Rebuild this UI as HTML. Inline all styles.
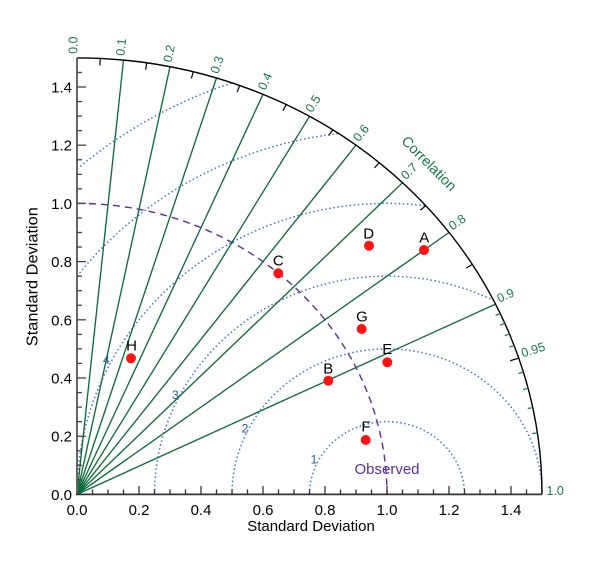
<!DOCTYPE html>
<html><head><meta charset="utf-8"><style>
html,body{margin:0;padding:0;background:#fff;}
svg{display:block;}
text{font-family:"Liberation Sans",Arial,sans-serif;}
</style></head><body>
<svg width="600" height="564" viewBox="0 0 600 564" xmlns="http://www.w3.org/2000/svg">
<rect width="600" height="564" fill="#fff"/>

<!-- RMS dotted circles -->
<g fill="none" stroke="#3f73c8" stroke-width="1.5" stroke-dasharray="1.5 2.6">
<path d="M309.5,494.4 A77.5,72.75 0 0 1 464.5,494.4"/>
<path d="M232,494.4 A155,145.5 0 0 1 542,494.4"/>
<path d="M154.5,494.4 A232.5,218.25 0 0 1 493.56,300.42"/>
<path d="M77,494.4 A310,291 0 0 1 425.75,205.68"/>
<path d="M77,276.15 A387.5,363.75 0 0 1 338.56,133.5"/>
<path d="M77,169.1 A465,436.5 0 0 1 232,82.9"/>
</g>
<g fill="#2a55a0" font-size="12" text-anchor="middle">
<text x="314" y="463.5">1</text>
<text x="245" y="432.7">2</text>
<text x="175.3" y="399">3</text>
<text x="106.3" y="364">4</text>
</g>

<!-- Observed dashed arc -->
<path d="M77,203.4 A310,291 0 0 1 387,494.4" fill="none" stroke="#5c2e9e" stroke-width="1.4" stroke-dasharray="7 5"/>
<text x="387" y="474" font-size="15" fill="#5c2e9e" text-anchor="middle">Observed</text>

<!-- correlation lines -->
<g stroke="#0f6b3a" stroke-width="1.35">
<line x1="77" y1="494.4" x2="123.5" y2="60.09"/>
<line x1="77" y1="494.4" x2="170" y2="66.72"/>
<line x1="77" y1="494.4" x2="216.5" y2="78.0"/>
<line x1="77" y1="494.4" x2="263" y2="94.34"/>
<line x1="77" y1="494.4" x2="309.5" y2="116.38"/>
<line x1="77" y1="494.4" x2="356" y2="145.2"/>
<line x1="77" y1="494.4" x2="402.5" y2="182.68"/>
<line x1="77" y1="494.4" x2="449" y2="232.5"/>
<line x1="77" y1="494.4" x2="495.5" y2="304.13"/>
</g>

<!-- outer arc -->
<path d="M77,57.9 A465,436.5 0 0 1 542,494.4" fill="none" stroke="#000" stroke-width="1.4"/>

<!-- arc minor ticks -->
<g stroke="#000" stroke-width="1.2">
<line x1="100.25" y1="58.45" x2="99.88" y2="65.44"/>
<line x1="146.75" y1="62.84" x2="145.63" y2="69.75"/>
<line x1="193.25" y1="71.76" x2="191.39" y2="78.51"/>
<line x1="239.75" y1="85.51" x2="237.16" y2="92.01"/>
<line x1="286.25" y1="104.59" x2="282.94" y2="110.76"/>
<line x1="332.75" y1="129.85" x2="328.73" y2="135.58"/>
<line x1="379.25" y1="162.69" x2="374.54" y2="167.86"/>
<line x1="425.75" y1="205.68" x2="420.36" y2="210.14"/>
<line x1="472.25" y1="264.46" x2="466.2" y2="267.98"/>
<line x1="518.75" y1="358.1" x2="510.15" y2="360.75"/>
</g>
<g stroke="#1a7a45" stroke-width="1.2">
<line x1="500.15" y1="313.42" x2="495.55" y2="315.39"/>
<line x1="504.8" y1="323.33" x2="500.16" y2="325.19"/>
<line x1="509.45" y1="333.96" x2="504.76" y2="335.7"/>
<line x1="514.1" y1="345.48" x2="509.37" y2="347.09"/>
<line x1="523.4" y1="372.18" x2="518.58" y2="373.5"/>
<line x1="528.05" y1="388.29" x2="523.18" y2="389.44"/>
<line x1="532.7" y1="407.54" x2="527.79" y2="408.48"/>
<line x1="537.35" y1="432.82" x2="532.39" y2="433.48"/>
</g>

<!-- correlation labels -->
<g fill="#17794a" font-size="12.5">
<text transform="translate(77,57.9) rotate(-90)" x="4" y="0.5">0.0</text>
<text transform="translate(123.5,60.09) rotate(-83.89)" x="4" y="0.5">0.1</text>
<text transform="translate(170,66.72) rotate(-77.73)" x="4" y="0.5">0.2</text>
<text transform="translate(216.5,78.0) rotate(-71.48)" x="4" y="0.5">0.3</text>
<text transform="translate(263,94.34) rotate(-65.07)" x="4" y="0.5">0.4</text>
<text transform="translate(309.5,116.38) rotate(-58.41)" x="4" y="0.5">0.5</text>
<text transform="translate(356,145.2) rotate(-51.37)" x="4" y="0.5">0.6</text>
<text transform="translate(402.5,182.68) rotate(-43.77)" x="4" y="0.5">0.7</text>
<text transform="translate(449,232.5) rotate(-35.15)" x="4" y="0.5">0.8</text>
<text transform="translate(495.5,304.13) rotate(-24.45)" x="4" y="0.5">0.9</text>
<text transform="translate(518.75,358.1) rotate(-17.15)" x="4" y="0.5">0.95</text>
<text transform="translate(542,494.4)" x="4.5" y="0.5">1.0</text>
</g>
<text transform="translate(429.2,163.4) rotate(45)" x="0" y="5" font-size="14.5" fill="#17794a" text-anchor="middle">Correlation</text>

<!-- axes -->
<line x1="77" y1="494.4" x2="77" y2="57.9" stroke="#666" stroke-width="2"/>
<line x1="76" y1="494.4" x2="542" y2="494.4" stroke="#333" stroke-width="1.8"/>

<!-- y ticks -->
<g stroke="#444" stroke-width="1.3">
<line x1="77" x2="82" y1="479.85" y2="479.85"/>
<line x1="77" x2="82" y1="465.3" y2="465.3"/>
<line x1="77" x2="82" y1="450.75" y2="450.75"/>
<line x1="77" x2="86" y1="436.2" y2="436.2"/>
<line x1="77" x2="82" y1="421.65" y2="421.65"/>
<line x1="77" x2="82" y1="407.1" y2="407.1"/>
<line x1="77" x2="82" y1="392.55" y2="392.55"/>
<line x1="77" x2="86" y1="378" y2="378"/>
<line x1="77" x2="82" y1="363.45" y2="363.45"/>
<line x1="77" x2="82" y1="348.9" y2="348.9"/>
<line x1="77" x2="82" y1="334.35" y2="334.35"/>
<line x1="77" x2="86" y1="319.8" y2="319.8"/>
<line x1="77" x2="82" y1="305.25" y2="305.25"/>
<line x1="77" x2="82" y1="290.7" y2="290.7"/>
<line x1="77" x2="82" y1="276.15" y2="276.15"/>
<line x1="77" x2="86" y1="261.6" y2="261.6"/>
<line x1="77" x2="82" y1="247.05" y2="247.05"/>
<line x1="77" x2="82" y1="232.5" y2="232.5"/>
<line x1="77" x2="82" y1="217.95" y2="217.95"/>
<line x1="77" x2="86" y1="203.4" y2="203.4"/>
<line x1="77" x2="82" y1="188.85" y2="188.85"/>
<line x1="77" x2="82" y1="174.3" y2="174.3"/>
<line x1="77" x2="82" y1="159.75" y2="159.75"/>
<line x1="77" x2="86" y1="145.2" y2="145.2"/>
<line x1="77" x2="82" y1="130.65" y2="130.65"/>
<line x1="77" x2="82" y1="116.1" y2="116.1"/>
<line x1="77" x2="82" y1="101.55" y2="101.55"/>
<line x1="77" x2="86" y1="87" y2="87"/>
<line x1="77" x2="82" y1="72.45" y2="72.45"/>
</g>

<!-- x ticks -->
<g stroke="#333" stroke-width="1.3">
<line y1="494.4" y2="489.4" x1="92.5" x2="92.5"/>
<line y1="494.4" y2="489.4" x1="108" x2="108"/>
<line y1="494.4" y2="489.4" x1="123.5" x2="123.5"/>
<line y1="494.4" y2="486" x1="139" x2="139"/>
<line y1="494.4" y2="489.4" x1="154.5" x2="154.5"/>
<line y1="494.4" y2="489.4" x1="170" x2="170"/>
<line y1="494.4" y2="489.4" x1="185.5" x2="185.5"/>
<line y1="494.4" y2="486" x1="201" x2="201"/>
<line y1="494.4" y2="489.4" x1="216.5" x2="216.5"/>
<line y1="494.4" y2="489.4" x1="232" x2="232"/>
<line y1="494.4" y2="489.4" x1="247.5" x2="247.5"/>
<line y1="494.4" y2="486" x1="263" x2="263"/>
<line y1="494.4" y2="489.4" x1="278.5" x2="278.5"/>
<line y1="494.4" y2="489.4" x1="294" x2="294"/>
<line y1="494.4" y2="489.4" x1="309.5" x2="309.5"/>
<line y1="494.4" y2="486" x1="325" x2="325"/>
<line y1="494.4" y2="489.4" x1="340.5" x2="340.5"/>
<line y1="494.4" y2="489.4" x1="356" x2="356"/>
<line y1="494.4" y2="489.4" x1="371.5" x2="371.5"/>
<line y1="494.4" y2="486" x1="387" x2="387"/>
<line y1="494.4" y2="489.4" x1="402.5" x2="402.5"/>
<line y1="494.4" y2="489.4" x1="418" x2="418"/>
<line y1="494.4" y2="489.4" x1="433.5" x2="433.5"/>
<line y1="494.4" y2="486" x1="449" x2="449"/>
<line y1="494.4" y2="489.4" x1="464.5" x2="464.5"/>
<line y1="494.4" y2="489.4" x1="480" x2="480"/>
<line y1="494.4" y2="489.4" x1="495.5" x2="495.5"/>
<line y1="494.4" y2="486" x1="511" x2="511"/>
<line y1="494.4" y2="489.4" x1="526.5" x2="526.5"/>
</g>

<!-- tick labels -->
<g fill="#000" font-size="15" text-anchor="end">
<text x="72" y="499.9">0.0</text>
<text x="72" y="441.7">0.2</text>
<text x="72" y="383.5">0.4</text>
<text x="72" y="325.3">0.6</text>
<text x="72" y="267.1">0.8</text>
<text x="72" y="208.9">1.0</text>
<text x="72" y="150.7">1.2</text>
<text x="72" y="92.5">1.4</text>
</g>
<g fill="#000" font-size="15" text-anchor="middle">
<text x="77" y="515">0.0</text>
<text x="139" y="515">0.2</text>
<text x="201" y="515">0.4</text>
<text x="263" y="515">0.6</text>
<text x="325" y="515">0.8</text>
<text x="387" y="515">1.0</text>
<text x="449" y="515">1.2</text>
<text x="511" y="515">1.4</text>
</g>
<text x="311" y="531" font-size="15" text-anchor="middle" fill="#000">Standard Deviation</text>
<text transform="translate(37.5,276.7) rotate(-90)" x="0" y="0" font-size="15.5" text-anchor="middle" fill="#000" textLength="139" lengthAdjust="spacingAndGlyphs">Standard Deviation</text>

<!-- data points -->
<g fill="#ff1414">
<circle cx="424" cy="250" r="5"/>
<circle cx="328.3" cy="380.7" r="5"/>
<circle cx="278.3" cy="273.3" r="5"/>
<circle cx="369" cy="245.7" r="5"/>
<circle cx="387.3" cy="362.3" r="5"/>
<circle cx="365.7" cy="440" r="5"/>
<circle cx="361.7" cy="329" r="5"/>
<circle cx="131" cy="358.3" r="5"/>
</g>
<g fill="#000" font-size="15" text-anchor="middle">
<text x="424.3" y="242.3">A</text>
<text x="328.3" y="373.3">B</text>
<text x="278.3" y="265.7">C</text>
<text x="368.7" y="238.3">D</text>
<text x="387.2" y="354">E</text>
<text x="366" y="431.7">F</text>
<text x="362" y="321.7">G</text>
<text x="131.5" y="350.7">H</text>
</g>
</svg>
</body></html>
